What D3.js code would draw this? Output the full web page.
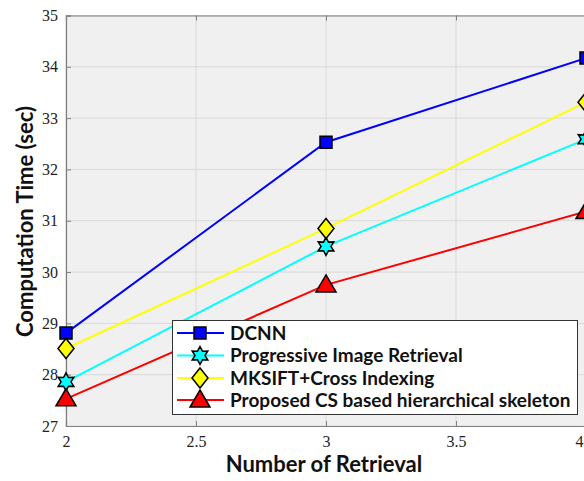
<!DOCTYPE html>
<html><head><meta charset="utf-8">
<script src="https://cdn.jsdelivr.net/npm/d3@7"></script>
<style>body{margin:0;background:#fff}svg{display:block}</style>
</head><body>
<script>
const xValues = [2, 3, 4];
const seriesNames = ["DCNN", "Progressive Image Retrieval", "MKSIFT+Cross Indexing", "Proposed CS based hierarchical skeleton"];
const dcnn = [28.81, 32.53, 34.17];
const progressive = [27.86, 30.5, 32.59];
const mksift = [28.51, 30.85, 33.31];
const proposed = [27.53, 29.75, 31.18];
const xTicks = [2, 2.5, 3, 3.5, 4];
const yTicks = [27, 28, 29, 30, 31, 32, 33, 34, 35];

const colors = ["#0000ff", "#00ffff", "#ffff00", "#ff0000"];
const markers = ["square", "hexagram", "diamond", "triangle"];
const allSeries = [dcnn, progressive, mksift, proposed];

const W = 584, H = 481;
const svg = d3.select("body").append("svg").attr("width", W).attr("height", H);
const x = d3.scaleLinear().domain([2, 4]).range([66, 586]);
const y = d3.scaleLinear().domain([27, 35]).range([426, 15.5]);

// background
svg.append("rect").attr("x", x(2)).attr("y", y(35)).attr("width", x(4) - x(2)).attr("height", y(27) - y(35)).attr("fill", "#f0f0f0");

// grid
svg.append("g").selectAll("line").data(xTicks).join("line")
  .attr("x1", d => x(d)).attr("x2", d => x(d)).attr("y1", y(27)).attr("y2", y(35))
  .attr("stroke", "#d9d9d9").attr("stroke-width", 1);
svg.append("g").selectAll("line").data(yTicks).join("line")
  .attr("y1", d => y(d)).attr("y2", d => y(d)).attr("x1", x(2)).attr("x2", x(4))
  .attr("stroke", "#d9d9d9").attr("stroke-width", 1);

// axes
const tickFont = "'Liberation Serif', serif";
const xAxis = d3.axisBottom(x).tickValues(xTicks).tickSize(-5).tickPadding(10).tickFormat(d3.format("~g"));
const gx = svg.append("g").attr("transform", `translate(0,${y(27)})`).call(xAxis);
const yAxis = d3.axisLeft(y).tickValues(yTicks).tickSize(-5).tickPadding(8).tickFormat(d3.format("d"));
const gy = svg.append("g").attr("transform", `translate(${x(2)},0)`).call(yAxis);
const xTop = d3.axisTop(x).tickValues(xTicks).tickSize(-5).tickFormat("");
const gxt = svg.append("g").attr("transform", `translate(0,${y(35)})`).call(xTop);
[gx, gy, gxt].forEach(g => {
  g.select(".domain").attr("stroke", "#808080").attr("stroke-width", 1.2);
  g.selectAll(".tick line").attr("stroke", "#808080");
  g.selectAll("text").attr("font-family", tickFont).attr("font-size", 16).attr("fill", "#222");
});
// last x tick label sits at the window edge; keep it fully inside the picture
gx.selectAll(".tick text").filter(d => d === 4).attr("text-anchor", "end").attr("x", W - 1 - x(4));

// axis labels
const labFont = "Lato, 'Open Sans', sans-serif";
svg.append("text").attr("x", 324).attr("y", 472).attr("text-anchor", "middle")
  .attr("font-family", labFont).attr("font-weight", "bold").attr("font-size", 22).attr("fill", "#111")
  .text("Number of Retrieval");
svg.append("text").attr("transform", "translate(33,221.5) rotate(-90)").attr("text-anchor", "middle")
  .attr("font-family", labFont).attr("font-weight", "bold").attr("font-size", 22).attr("fill", "#111")
  .text("Computation Time (sec)");

// marker symbols
function hexagram(r) {
  const pts = [];
  for (let i = 0; i < 12; i++) {
    const a = -Math.PI / 2 + i * Math.PI / 6;
    const rr = i % 2 === 0 ? r : r * 0.55;
    pts.push([rr * Math.cos(a), rr * Math.sin(a)]);
  }
  return "M" + pts.map(p => p.join(",")).join("L") + "Z";
}
function markerPath(type) {
  if (type === "square") return "M-6,-6L6,-6L6,6L-6,6Z";
  if (type === "diamond") return "M0,-10L8,0L0,10L-8,0Z";
  if (type === "triangle") return "M0,-10L10,7L-10,7Z";
  return hexagram(9);
}

const line = d3.line().x((d, i) => x(xValues[i])).y(d => y(d));
allSeries.forEach((s, k) => {
  svg.append("path").datum(s).attr("d", line).attr("fill", "none")
    .attr("stroke", colors[k]).attr("stroke-width", 2);
});
allSeries.forEach((s, k) => {
  svg.append("g").selectAll("path").data(s).join("path")
    .attr("transform", (d, i) => `translate(${x(xValues[i])},${y(d)})`)
    .attr("d", markerPath(markers[k]))
    .attr("fill", colors[k]).attr("stroke", "#000").attr("stroke-width", 1.5);
});

// legend
const lg = svg.append("g");
lg.append("rect").attr("x", 172.5).attr("y", 320.5).attr("width", 405).attr("height", 94)
  .attr("fill", "#fff").attr("stroke", "#333").attr("stroke-width", 1);
const rowY = [333, 355.5, 378, 400];
seriesNames.forEach((n, k) => {
  lg.append("line").attr("x1", 177).attr("x2", 224).attr("y1", rowY[k]).attr("y2", rowY[k])
    .attr("stroke", colors[k]).attr("stroke-width", 2);
  lg.append("path").attr("transform", `translate(200,${rowY[k]})`).attr("d", markerPath(markers[k]))
    .attr("fill", colors[k]).attr("stroke", "#000").attr("stroke-width", 1.5);
  lg.append("text").attr("x", 230).attr("y", rowY[k] + 6.5).attr("font-family", labFont)
    .attr("font-weight", "bold").attr("font-size", 19).attr("fill", "#111").text(n);
});
</script>
</body></html>
